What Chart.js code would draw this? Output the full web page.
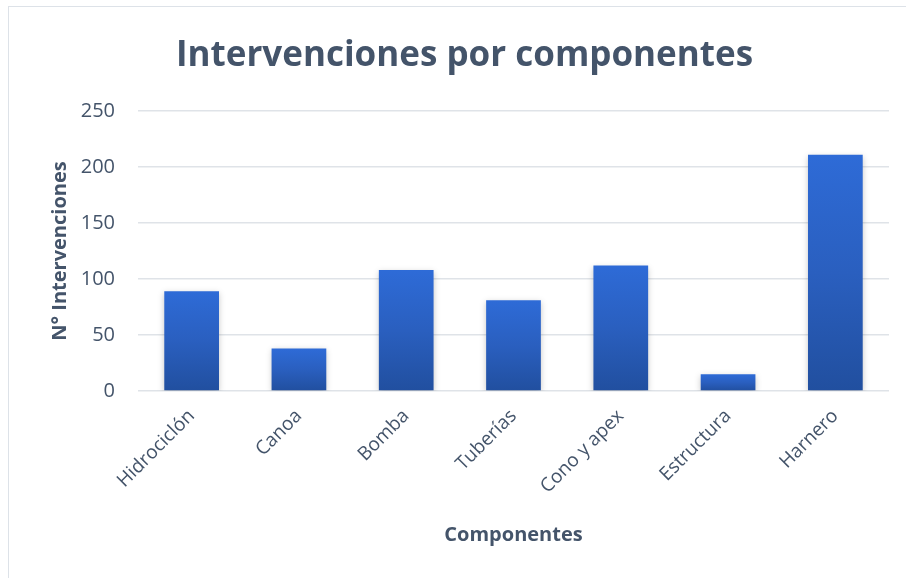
<!DOCTYPE html>
<html>
<head>
<meta charset="utf-8">
<script src="https://cdn.jsdelivr.net/npm/chart.js@4"></script>
<style>
  html, body { margin: 0; padding: 0; background: #fff; }
  #wrap { position: relative; width: 906px; height: 578px; overflow: hidden; }
  #frame {
    position: absolute; left: 8px; top: 6px; width: 960px; height: 640px;
    border-top: 1.5px solid #dde2e8; border-left: 1.5px solid #dde2e8;
  }
  #chart { position: absolute; left: 0; top: 0; }
</style>
</head>
<body>
<div id="wrap">
  <div id="frame"></div>
  <canvas id="chart" width="906" height="578"></canvas>
</div>
<script>
// ---- data ----
const componentes = ["Hidrociclón", "Canoa", "Bomba", "Tuberías", "Cono y apex", "Estructura", "Harnero"];
const intervenciones = [89, 38, 108, 81, 112, 15, 211];
const yTicks = [0, 50, 100, 150, 200, 250];

const TEXT = '#44546a';
const FONT = "'Open Sans', sans-serif";

// vertical gradient per bar, top light -> bottom dark
function barGradient(context) {
    const chart = context.chart;
    const { ctx, chartArea, scales } = chart;
    if (!chartArea) return '#2d6ad5';
    const top = scales.y.getPixelForValue(context.raw);
    const bottom = scales.y.getPixelForValue(0);
    const g = ctx.createLinearGradient(0, top, 0, bottom);
    g.addColorStop(0, '#2e6bd7');
    g.addColorStop(0.5, '#2a5fbf');
    g.addColorStop(1, '#214f9f');
    return g;
}

// soft shadow under the bars
const barShadow = {
    id: 'barShadow',
    beforeDatasetsDraw(chart) {
        const c = chart.ctx;
        c.save();
        c.shadowColor = 'rgba(0,0,0,0.22)';
        c.shadowBlur = 6;
        c.shadowOffsetX = 0;
        c.shadowOffsetY = 2;
    },
    afterDatasetsDraw(chart) {
        chart.ctx.restore();
    }
};

new Chart(document.getElementById('chart'), {
    type: 'bar',
    data: {
        labels: componentes,
        datasets: [{
            data: intervenciones,
            backgroundColor: barGradient,
            categoryPercentage: 1,
            barPercentage: 0.51
        }]
    },
    options: {
        responsive: false,
        animation: false,
        layout: { padding: { left: 40, right: 17, top: 0, bottom: 0 } },
        plugins: {
            legend: { display: false },
            tooltip: { enabled: false },
            title: {
                display: true,
                text: 'Intervenciones por componentes',
                color: TEXT,
                font: { family: FONT, size: 35, weight: 'bold' },
                padding: { top: 35, bottom: 34 }
            }
        },
        scales: {
            x: {
                grid: { display: false },
                border: { display: false },
                ticks: {
                    color: TEXT,
                    font: { family: FONT, size: 19 },
                    minRotation: 45,
                    maxRotation: 45,
                    padding: 6
                },
                title: {
                    display: true,
                    text: 'Componentes',
                    color: TEXT,
                    font: { family: FONT, size: 20, weight: 'bold' },
                    padding: { top: 0, bottom: 31 }
                },
                afterFit(scale) { scale.height = 187; }
            },
            y: {
                min: 0,
                max: 250,
                afterBuildTicks(scale) { scale.ticks = yTicks.map(v => ({ value: v })); },
                grid: { color: '#dfe3e8', lineWidth: 1.5, drawTicks: false },
                border: { display: false },
                ticks: {
                    color: TEXT,
                    font: { family: FONT, size: 20 },
                    padding: 23
                },
                title: {
                    display: true,
                    text: 'N° Intervenciones',
                    color: TEXT,
                    font: { family: FONT, size: 20, weight: 'bold' },
                    padding: { top: 8, bottom: 0 }
                },
                afterFit(scale) { scale.width = 98; }
            }
        }
    },
    plugins: [barShadow]
});
</script>
</body>
</html>
